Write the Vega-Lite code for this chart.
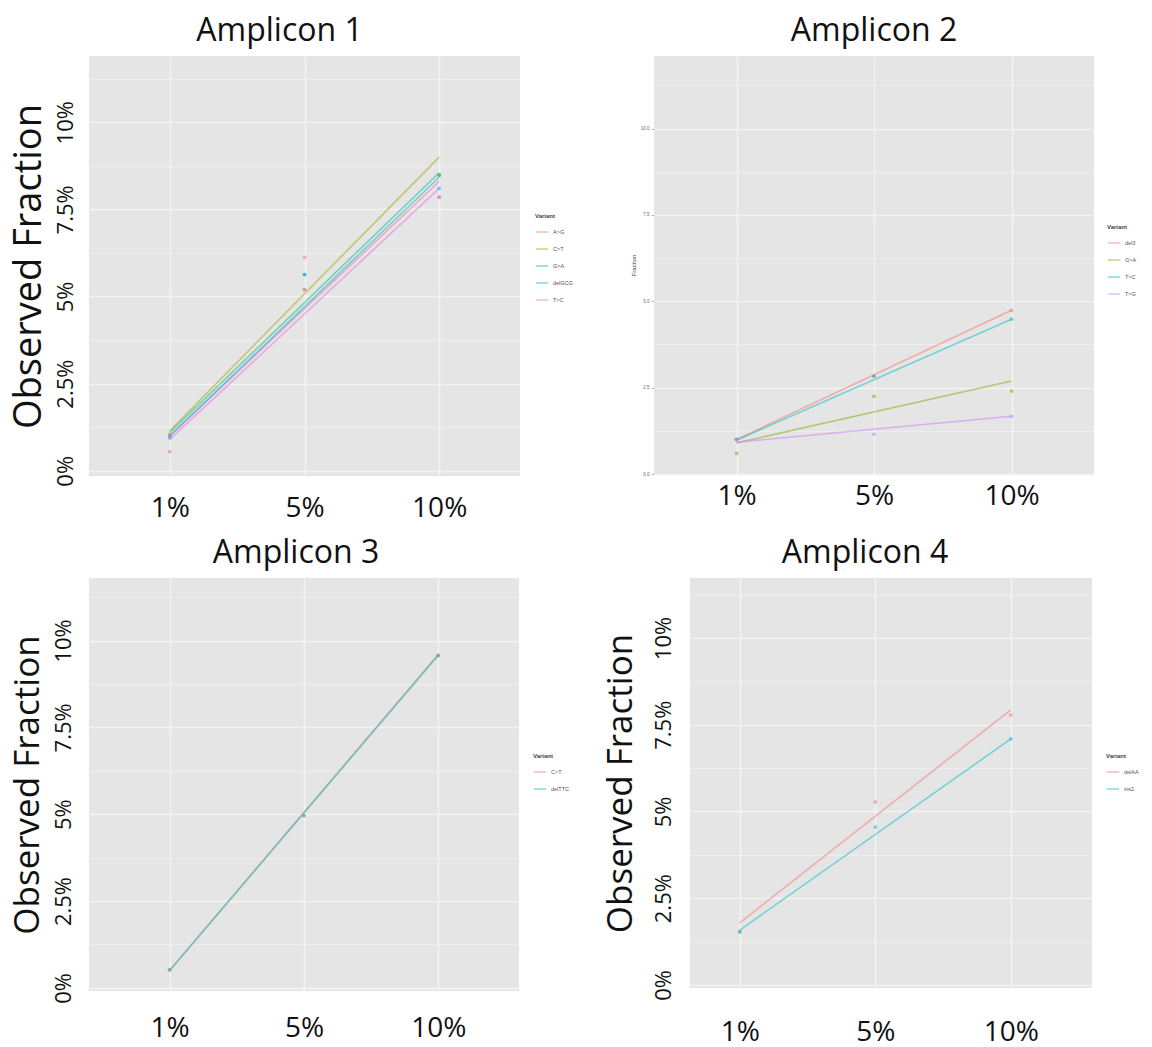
{
  "$schema": "https://vega.github.io/schema/vega-lite/v6.json",
  "padding": {"left": 10, "top": 15, "right": 0, "bottom": 2},
  "background": "white",
  "config": {
    "font": "Open Sans",
    "view": {"fill": "#E5E5E5", "stroke": null}
  },
  "spacing": 15,
  "resolve": {"scale": {"color": "independent", "x": "independent", "y": "independent"}, "legend": {"color": "independent"}},
  "vconcat": [
    {
      "spacing": 57,
      "resolve": {"scale": {"color": "independent", "x": "independent", "y": "independent"}, "legend": {"color": "independent"}},
      "hconcat": [
        {
          "width": 431,
          "height": 420,
          "title": {"text": "Amplicon 1", "fontSize": 32, "fontWeight": "normal", "font": "Open Sans", "color": "#111111", "anchor": "middle", "dx": -25, "offset": 8},
          "encoding": {
            "x": {"field": "spike", "type": "ordinal", "scale": {"type": "point", "domain": ["1%", "5%", "10%"], "padding": 0.6},
              "axis": {"title": null, "labelFontSize": 28, "labelAngle": 0, "labelPadding": 18, "ticks": false, "domain": false, "labelColor": "#111111", "grid": true, "gridColor": "#F4F4F4", "gridWidth": 1.3}},
            "y": {"field": "fraction", "type": "quantitative", "scale": {"domain": [-0.15, 11.9], "nice": false, "zero": false},
              "axis": {"title": "Observed Fraction", "titleFontSize": 38, "titleFontWeight": "normal", "titleColor": "#111111", "titlePadding": 6,
                "values": [0, 1.25, 2.5, 3.75, 5, 6.25, 7.5, 8.75, 10, 11.25],
                "labelExpr": "datum.value % 2.5 === 0 ? datum.value + '%' : ''",
                "labelAngle": -90, "labelFontSize": 22, "labelColor": "#111111", "labelPadding": 12, "labelOverlap": false, "labelFlush": false,
                "ticks": false, "domain": false, "grid": true, "gridColor": "#F4F4F4",
                "gridWidth": {"condition": {"test": "datum.value % 2.5 !== 0", "value": 0.6}, "value": 1.3}}},
            "color": {"field": "variant", "type": "nominal",
              "scale": {"domain": ["A>G", "C>T", "G>A", "delGCG", "T>C"], "range": ["#F8766D", "#A3A500", "#00BF7D", "#00B0F6", "#E76BF3"]},
              "legend": {"orient": "none", "legendX": 446, "legendY": 157, "title": "Variant", "titleFontSize": 6, "titleFont": "Liberation Sans", "titleColor": "#444444", "titlePadding": 6,
                "labelFontSize": 5.5, "labelFont": "Liberation Sans", "labelColor": "#555555", "symbolType": "stroke", "symbolSize": 150, "symbolStrokeWidth": 1.5, "symbolOpacity": 0.5, "rowPadding": 6}}
          },
          "layer": [
            {"data": {"name": "fits"}, "transform": [{"filter": "datum.amplicon === 'Amplicon 1'"}], "mark": {"type": "line", "strokeWidth": 1.6, "opacity": 0.5}, "encoding": {}},
            {"data": {"name": "points"}, "transform": [{"filter": "datum.amplicon === 'Amplicon 1'"}], "mark": {"type": "circle", "size": 14, "opacity": 0.55}}
          ]
        },
        {
          "width": 440,
          "height": 418,
          "title": {"text": "Amplicon 2", "fontSize": 32, "fontWeight": "normal", "font": "Open Sans", "color": "#111111", "anchor": "middle", "dx": 0, "offset": 8},
          "encoding": {
            "x": {"field": "spike", "type": "ordinal", "scale": {"type": "point", "domain": ["1%", "5%", "10%"], "padding": 0.6},
              "axis": {"title": null, "labelFontSize": 28, "labelAngle": 0, "labelPadding": 8, "ticks": false, "domain": false, "labelColor": "#111111", "grid": true, "gridColor": "#F4F4F4", "gridWidth": 1.3}},
            "y": {"field": "fraction", "type": "quantitative", "scale": {"domain": [0, 12.1], "nice": false, "zero": false},
              "axis": {"title": "Fraction", "titleFontSize": 6, "titleFont": "Liberation Sans", "titleFontWeight": "normal", "titleColor": "#444444", "titlePadding": 4,
                "values": [0, 1.25, 2.5, 3.75, 5, 6.25, 7.5, 8.75, 10, 11.25],
                "labelExpr": "datum.value % 2.5 === 0 ? format(datum.value, '.1f') : ''",
                "labelFontSize": 4.5, "labelFont": "Liberation Sans", "labelColor": "#666666", "labelPadding": 2, "labelOverlap": false, "labelFlush": false,
                "ticks": true, "tickSize": 3, "tickColor": "#BBBBBB",
                "tickOpacity": {"condition": {"test": "datum.value % 2.5 !== 0", "value": 0}, "value": 1},
                "domain": false, "grid": true, "gridColor": "#F4F4F4",
                "gridWidth": {"condition": {"test": "datum.value % 2.5 !== 0", "value": 0.6}, "value": 1.3}}},
            "color": {"field": "variant", "type": "nominal",
              "scale": {"domain": ["del3", "G>A", "T>C", "T>G"], "range": ["#F8766D", "#7CAE00", "#00BFC4", "#C77CFF"]},
              "legend": {"orient": "none", "legendX": 453, "legendY": 168, "title": "Variant", "titleFontSize": 6, "titleFont": "Liberation Sans", "titleColor": "#444444", "titlePadding": 6,
                "labelFontSize": 5.5, "labelFont": "Liberation Sans", "labelColor": "#555555", "symbolType": "stroke", "symbolSize": 150, "symbolStrokeWidth": 1.5, "symbolOpacity": 0.5, "rowPadding": 6}}
          },
          "layer": [
            {"data": {"name": "fits"}, "transform": [{"filter": "datum.amplicon === 'Amplicon 2'"}], "mark": {"type": "line", "strokeWidth": 1.6, "opacity": 0.5}, "encoding": {}},
            {"data": {"name": "points"}, "transform": [{"filter": "datum.amplicon === 'Amplicon 2'"}], "mark": {"type": "circle", "size": 14, "opacity": 0.55}}
          ]
        }
      ]
    },
    {
      "spacing": 33,
      "resolve": {"scale": {"color": "independent", "x": "independent", "y": "independent"}, "legend": {"color": "independent"}},
      "hconcat": [
        {
          "width": 430,
          "height": 413,
          "title": {"text": "Amplicon 3", "fontSize": 32, "fontWeight": "normal", "font": "Open Sans", "color": "#111111", "anchor": "middle", "dx": -8, "offset": 8},
          "encoding": {
            "x": {"field": "spike", "type": "ordinal", "scale": {"type": "point", "domain": ["1%", "5%", "10%"], "padding": 0.6},
              "axis": {"title": null, "labelFontSize": 28, "labelAngle": 0, "labelPadding": 23, "ticks": false, "domain": false, "labelColor": "#111111", "grid": true, "gridColor": "#F4F4F4", "gridWidth": 1.3}},
            "y": {"field": "fraction", "type": "quantitative", "scale": {"domain": [-0.09, 11.8], "nice": false, "zero": false},
              "axis": {"title": "Observed Fraction", "titleFontSize": 35, "titleFontWeight": "normal", "titleColor": "#111111", "titlePadding": 7,
                "values": [0, 1.25, 2.5, 3.75, 5, 6.25, 7.5, 8.75, 10, 11.25],
                "labelExpr": "datum.value % 2.5 === 0 ? datum.value + '%' : ''",
                "labelAngle": -90, "labelFontSize": 22, "labelColor": "#111111", "labelPadding": 14, "labelOverlap": false, "labelFlush": false,
                "ticks": false, "domain": false, "grid": true, "gridColor": "#F4F4F4",
                "gridWidth": {"condition": {"test": "datum.value % 2.5 !== 0", "value": 0.6}, "value": 1.3}}},
            "color": {"field": "variant", "type": "nominal",
              "scale": {"domain": ["C>T", "delTTC"], "range": ["#F8766D", "#00BFC4"]},
              "legend": {"orient": "none", "legendX": 444, "legendY": 175, "title": "Variant", "titleFontSize": 6, "titleFont": "Liberation Sans", "titleColor": "#444444", "titlePadding": 6,
                "labelFontSize": 5.5, "labelFont": "Liberation Sans", "labelColor": "#555555", "symbolType": "stroke", "symbolSize": 150, "symbolStrokeWidth": 1.5, "symbolOpacity": 0.5, "rowPadding": 6}}
          },
          "layer": [
            {"data": {"name": "fits"}, "transform": [{"filter": "datum.amplicon === 'Amplicon 3'"}], "mark": {"type": "line", "strokeWidth": 1.8, "opacity": 0.45}, "encoding": {}},
            {"data": {"name": "points"}, "transform": [{"filter": "datum.amplicon === 'Amplicon 3'"}], "mark": {"type": "circle", "size": 14, "opacity": 0.5}}
          ]
        },
        {
          "width": 402,
          "height": 410,
          "title": {"text": "Amplicon 4", "fontSize": 32, "fontWeight": "normal", "font": "Open Sans", "color": "#111111", "anchor": "middle", "dx": -26, "offset": 8},
          "encoding": {
            "x": {"field": "spike", "type": "ordinal", "scale": {"type": "point", "domain": ["1%", "5%", "10%"], "padding": 0.483, "align": 0.38},
              "axis": {"title": null, "labelFontSize": 28, "labelAngle": 0, "labelPadding": 30, "ticks": false, "domain": false, "labelColor": "#111111", "grid": true, "gridColor": "#F4F4F4", "gridWidth": 1.3}},
            "y": {"field": "fraction", "type": "quantitative", "scale": {"domain": [-0.09, 11.73], "nice": false, "zero": false},
              "axis": {"title": "Observed Fraction", "titleFontSize": 35, "titleFontWeight": "normal", "titleColor": "#111111", "titlePadding": 14,
                "values": [0, 1.25, 2.5, 3.75, 5, 6.25, 7.5, 8.75, 10, 11.25],
                "labelExpr": "datum.value % 2.5 === 0 ? datum.value + '%' : ''",
                "labelAngle": -90, "labelFontSize": 22, "labelColor": "#111111", "labelPadding": 15, "labelOverlap": false, "labelFlush": false,
                "ticks": false, "domain": false, "grid": true, "gridColor": "#F4F4F4",
                "gridWidth": {"condition": {"test": "datum.value % 2.5 !== 0", "value": 0.6}, "value": 1.3}}},
            "color": {"field": "variant", "type": "nominal",
              "scale": {"domain": ["delAA", "ins2"], "range": ["#F8766D", "#00BFC4"]},
              "legend": {"orient": "none", "legendX": 416, "legendY": 175, "title": "Variant", "titleFontSize": 6, "titleFont": "Liberation Sans", "titleColor": "#444444", "titlePadding": 6,
                "labelFontSize": 5.5, "labelFont": "Liberation Sans", "labelColor": "#555555", "symbolType": "stroke", "symbolSize": 150, "symbolStrokeWidth": 1.5, "symbolOpacity": 0.5, "rowPadding": 6}}
          },
          "layer": [
            {"data": {"name": "fits"}, "transform": [{"filter": "datum.amplicon === 'Amplicon 4'"}], "mark": {"type": "line", "strokeWidth": 1.6, "opacity": 0.5}, "encoding": {}},
            {"data": {"name": "points"}, "transform": [{"filter": "datum.amplicon === 'Amplicon 4'"}], "mark": {"type": "circle", "size": 14, "opacity": 0.55}}
          ]
        }
      ]
    }
  ],
  "datasets": {
    "points": [
      {"amplicon": "Amplicon 1", "variant": "A>G", "spike": "1%", "fraction": 0.55},
      {"amplicon": "Amplicon 1", "variant": "A>G", "spike": "5%", "fraction": 6.12},
      {"amplicon": "Amplicon 1", "variant": "A>G", "spike": "10%", "fraction": 7.85},
      {"amplicon": "Amplicon 1", "variant": "C>T", "spike": "1%", "fraction": 1.05},
      {"amplicon": "Amplicon 1", "variant": "C>T", "spike": "5%", "fraction": 5.2},
      {"amplicon": "Amplicon 1", "variant": "C>T", "spike": "10%", "fraction": 8.48},
      {"amplicon": "Amplicon 1", "variant": "G>A", "spike": "1%", "fraction": 1.0},
      {"amplicon": "Amplicon 1", "variant": "G>A", "spike": "5%", "fraction": 5.63},
      {"amplicon": "Amplicon 1", "variant": "G>A", "spike": "10%", "fraction": 8.48},
      {"amplicon": "Amplicon 1", "variant": "delGCG", "spike": "1%", "fraction": 0.95},
      {"amplicon": "Amplicon 1", "variant": "delGCG", "spike": "5%", "fraction": 5.63},
      {"amplicon": "Amplicon 1", "variant": "delGCG", "spike": "10%", "fraction": 8.1},
      {"amplicon": "Amplicon 1", "variant": "T>C", "spike": "1%", "fraction": 1.0},
      {"amplicon": "Amplicon 1", "variant": "T>C", "spike": "5%", "fraction": 5.2},
      {"amplicon": "Amplicon 1", "variant": "T>C", "spike": "10%", "fraction": 7.85},
      {"amplicon": "Amplicon 2", "variant": "del3", "spike": "1%", "fraction": 1.0},
      {"amplicon": "Amplicon 2", "variant": "del3", "spike": "5%", "fraction": 2.83},
      {"amplicon": "Amplicon 2", "variant": "del3", "spike": "10%", "fraction": 4.74},
      {"amplicon": "Amplicon 2", "variant": "G>A", "spike": "1%", "fraction": 0.6},
      {"amplicon": "Amplicon 2", "variant": "G>A", "spike": "5%", "fraction": 2.25},
      {"amplicon": "Amplicon 2", "variant": "G>A", "spike": "10%", "fraction": 2.4},
      {"amplicon": "Amplicon 2", "variant": "T>C", "spike": "1%", "fraction": 1.0},
      {"amplicon": "Amplicon 2", "variant": "T>C", "spike": "5%", "fraction": 2.83},
      {"amplicon": "Amplicon 2", "variant": "T>C", "spike": "10%", "fraction": 4.48},
      {"amplicon": "Amplicon 2", "variant": "T>G", "spike": "1%", "fraction": 1.0},
      {"amplicon": "Amplicon 2", "variant": "T>G", "spike": "5%", "fraction": 1.15},
      {"amplicon": "Amplicon 2", "variant": "T>G", "spike": "10%", "fraction": 1.67},
      {"amplicon": "Amplicon 3", "variant": "C>T", "spike": "1%", "fraction": 0.52},
      {"amplicon": "Amplicon 3", "variant": "C>T", "spike": "5%", "fraction": 4.96},
      {"amplicon": "Amplicon 3", "variant": "C>T", "spike": "10%", "fraction": 9.57},
      {"amplicon": "Amplicon 3", "variant": "delTTC", "spike": "1%", "fraction": 0.52},
      {"amplicon": "Amplicon 3", "variant": "delTTC", "spike": "5%", "fraction": 4.96},
      {"amplicon": "Amplicon 3", "variant": "delTTC", "spike": "10%", "fraction": 9.57},
      {"amplicon": "Amplicon 4", "variant": "delAA", "spike": "1%", "fraction": 1.53},
      {"amplicon": "Amplicon 4", "variant": "delAA", "spike": "5%", "fraction": 5.27},
      {"amplicon": "Amplicon 4", "variant": "delAA", "spike": "10%", "fraction": 7.78},
      {"amplicon": "Amplicon 4", "variant": "ins2", "spike": "1%", "fraction": 1.53},
      {"amplicon": "Amplicon 4", "variant": "ins2", "spike": "5%", "fraction": 4.55},
      {"amplicon": "Amplicon 4", "variant": "ins2", "spike": "10%", "fraction": 7.09}
    ],
    "fits": [
      {"amplicon": "Amplicon 1", "variant": "A>G", "spike": "1%", "fraction": 1.0},
      {"amplicon": "Amplicon 1", "variant": "A>G", "spike": "10%", "fraction": 8.3},
      {"amplicon": "Amplicon 1", "variant": "C>T", "spike": "1%", "fraction": 1.15},
      {"amplicon": "Amplicon 1", "variant": "C>T", "spike": "10%", "fraction": 9.0},
      {"amplicon": "Amplicon 1", "variant": "G>A", "spike": "1%", "fraction": 1.1},
      {"amplicon": "Amplicon 1", "variant": "G>A", "spike": "10%", "fraction": 8.55},
      {"amplicon": "Amplicon 1", "variant": "delGCG", "spike": "1%", "fraction": 1.0},
      {"amplicon": "Amplicon 1", "variant": "delGCG", "spike": "10%", "fraction": 8.42},
      {"amplicon": "Amplicon 1", "variant": "T>C", "spike": "1%", "fraction": 0.9},
      {"amplicon": "Amplicon 1", "variant": "T>C", "spike": "10%", "fraction": 8.1},
      {"amplicon": "Amplicon 2", "variant": "del3", "spike": "1%", "fraction": 1.0},
      {"amplicon": "Amplicon 2", "variant": "del3", "spike": "10%", "fraction": 4.74},
      {"amplicon": "Amplicon 2", "variant": "G>A", "spike": "1%", "fraction": 0.9},
      {"amplicon": "Amplicon 2", "variant": "G>A", "spike": "10%", "fraction": 2.69},
      {"amplicon": "Amplicon 2", "variant": "T>C", "spike": "1%", "fraction": 0.98},
      {"amplicon": "Amplicon 2", "variant": "T>C", "spike": "10%", "fraction": 4.48},
      {"amplicon": "Amplicon 2", "variant": "T>G", "spike": "1%", "fraction": 0.92},
      {"amplicon": "Amplicon 2", "variant": "T>G", "spike": "10%", "fraction": 1.67},
      {"amplicon": "Amplicon 3", "variant": "C>T", "spike": "1%", "fraction": 0.5},
      {"amplicon": "Amplicon 3", "variant": "C>T", "spike": "10%", "fraction": 9.6},
      {"amplicon": "Amplicon 3", "variant": "delTTC", "spike": "1%", "fraction": 0.5},
      {"amplicon": "Amplicon 3", "variant": "delTTC", "spike": "10%", "fraction": 9.58},
      {"amplicon": "Amplicon 4", "variant": "delAA", "spike": "1%", "fraction": 1.79},
      {"amplicon": "Amplicon 4", "variant": "delAA", "spike": "10%", "fraction": 7.93},
      {"amplicon": "Amplicon 4", "variant": "ins2", "spike": "1%", "fraction": 1.58},
      {"amplicon": "Amplicon 4", "variant": "ins2", "spike": "10%", "fraction": 7.09}
    ]
  }
}
